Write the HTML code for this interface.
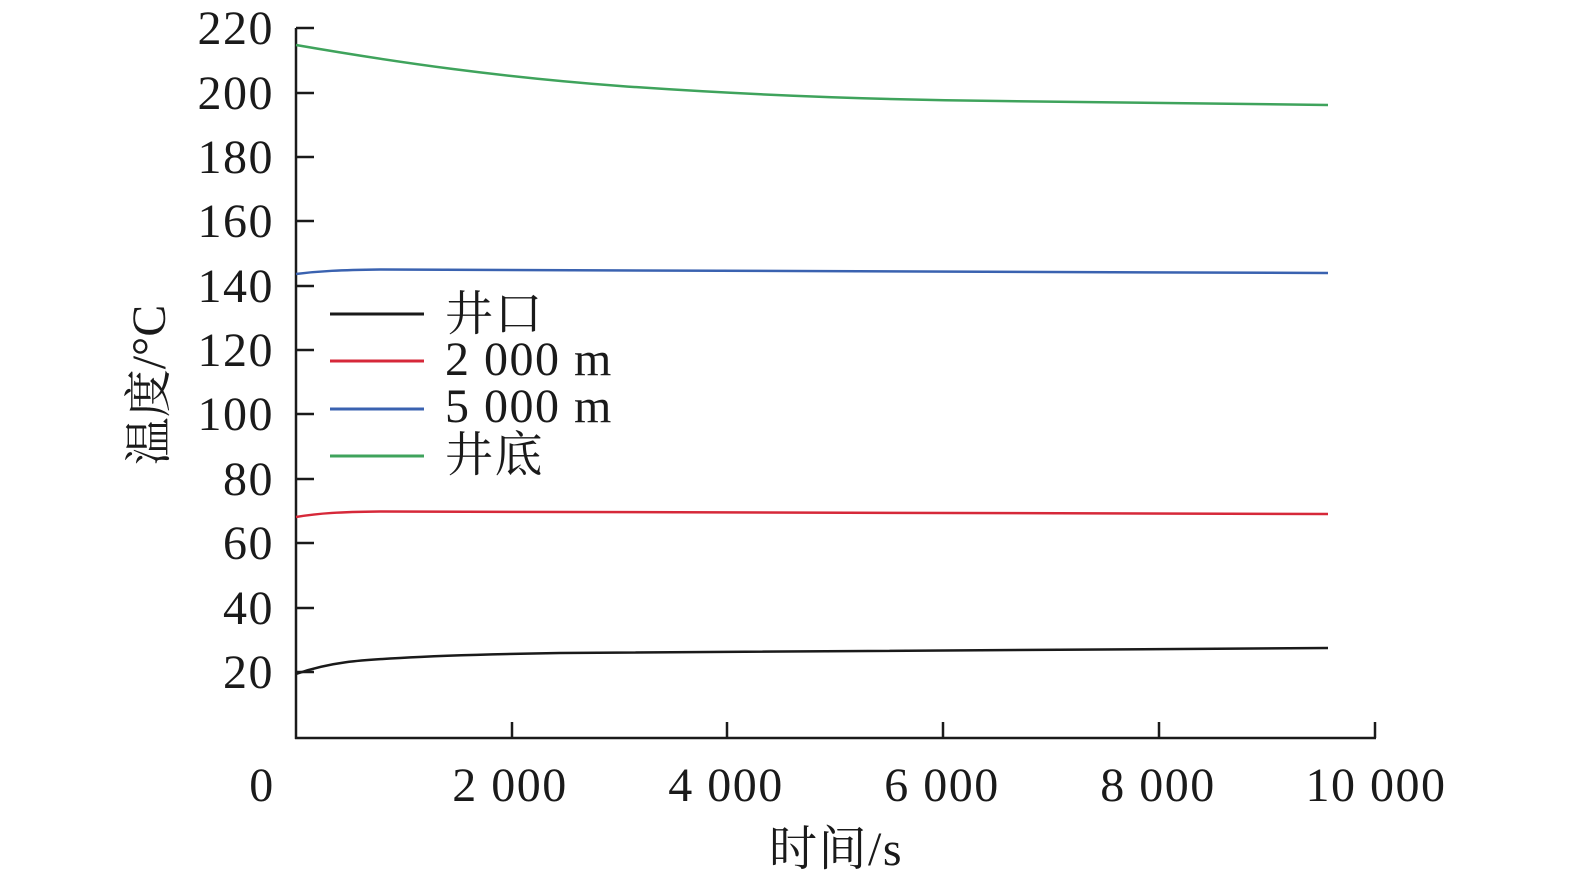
<!DOCTYPE html>
<html><head><meta charset="utf-8"><style>
html,body{margin:0;padding:0;background:#fff;}
svg text{font-family:"Liberation Serif","Noto Serif CJK SC",serif;fill:#1a1a1a;}
</style></head><body>
<svg width="1575" height="886" viewBox="0 0 1575 886" xmlns="http://www.w3.org/2000/svg">
<g stroke="#1a1a1a" stroke-width="2.5" fill="none">
<line x1="296" y1="28" x2="296" y2="739"/>
<line x1="295" y1="738" x2="1376" y2="738"/>
<line x1="296" y1="28" x2="314" y2="28"/>
<line x1="296" y1="93" x2="314" y2="93"/>
<line x1="296" y1="157" x2="314" y2="157"/>
<line x1="296" y1="221" x2="314" y2="221"/>
<line x1="296" y1="286" x2="314" y2="286"/>
<line x1="296" y1="350" x2="314" y2="350"/>
<line x1="296" y1="414" x2="314" y2="414"/>
<line x1="296" y1="479" x2="314" y2="479"/>
<line x1="296" y1="543" x2="314" y2="543"/>
<line x1="296" y1="608" x2="314" y2="608"/>
<line x1="296" y1="672" x2="314" y2="672"/>
<line x1="512" y1="738" x2="512" y2="722"/>
<line x1="727" y1="738" x2="727" y2="722"/>
<line x1="943" y1="738" x2="943" y2="722"/>
<line x1="1159" y1="738" x2="1159" y2="722"/>
<line x1="1375" y1="738" x2="1375" y2="722"/>
</g>
<g font-size="48" text-anchor="end" letter-spacing="1.5">
<text x="274" y="44">220</text>
<text x="274" y="109">200</text>
<text x="274" y="173">180</text>
<text x="274" y="237">160</text>
<text x="274" y="302">140</text>
<text x="274" y="366">120</text>
<text x="274" y="430">100</text>
<text x="274" y="495">80</text>
<text x="274" y="559">60</text>
<text x="274" y="624">40</text>
<text x="274" y="688">20</text>
</g>
<g font-size="48" text-anchor="middle" letter-spacing="1.5">
<text x="262" y="801">0</text>
<text x="510" y="801">2 000</text>
<text x="726" y="801">4 000</text>
<text x="942" y="801">6 000</text>
<text x="1158" y="801">8 000</text>
<text x="1376" y="801">10 000</text>
<text x="836" y="865">时间/s</text>
</g>
<text font-size="48" text-anchor="middle" transform="translate(165,385) rotate(-90)">温度/°C</text>
<g fill="none" stroke-width="2.5">
<path stroke="#1a1a1a" d="M296,674 C330,662 360,660 400,658 C450,655 500,654 560,653 C700,651 900,650 1328,648"/>
<path stroke="#d62839" d="M296,517 C320,513 340,512 380,511.5 C500,512 700,513.5 1328,514"/>
<path stroke="#3a62b0" d="M296,274 C320,271 340,270 380,269.5 C500,270 700,271.5 1328,273"/>
<path stroke="#3fa35c" d="M296,45 C400,63 500,77 620,86 C760,96 900,100 1000,101 C1150,103 1250,104.5 1328,105"/>
</g>
<g stroke-width="3">
<line x1="330" y1="314" x2="424" y2="314" stroke="#1a1a1a"/>
<line x1="330" y1="361" x2="424" y2="361" stroke="#d62839"/>
<line x1="330" y1="409" x2="424" y2="409" stroke="#3a62b0"/>
<line x1="330" y1="456" x2="424" y2="456" stroke="#3fa35c"/>
</g>
<g font-size="48" letter-spacing="1.5">
<text x="445" y="330">井口</text>
<text x="445" y="375">2 000 m</text>
<text x="445" y="422">5 000 m</text>
<text x="445" y="471">井底</text>
</g>
</svg>
</body></html>
